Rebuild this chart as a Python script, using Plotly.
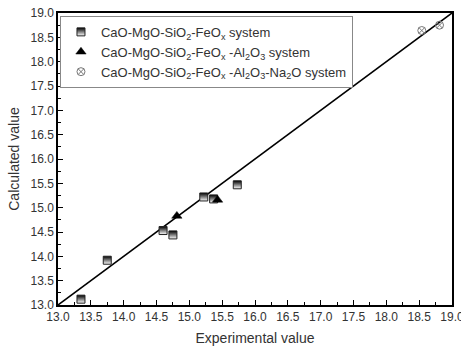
import plotly.graph_objects as go

# Data
sys1_x = [13.35, 13.75, 14.60, 14.75, 15.22, 15.37, 15.73]
sys1_y = [13.12, 13.92, 14.53, 14.44, 15.22, 15.18, 15.47]
sys2_x = [14.81, 15.43]
sys2_y = [14.83, 15.16]
sys3_x = [18.54, 18.81]
sys3_y = [18.64, 18.75]
line_x = [13.0, 19.0]
line_y = [13.0, 19.0]

names = [
    "CaO-MgO-SiO<sub>2</sub>-FeO<sub>x</sub> system",
    "CaO-MgO-SiO<sub>2</sub>-FeO<sub>x</sub> -Al<sub>2</sub>O<sub>3</sub> system",
    "CaO-MgO-SiO<sub>2</sub>-FeO<sub>x</sub> -Al<sub>2</sub>O<sub>3</sub>-Na<sub>2</sub>O system",
]

FONT = "Liberation Sans, Arial"

fig = go.Figure()
fig.add_trace(go.Scatter(x=line_x, y=line_y, mode="lines",
                         line=dict(color="black", width=1.6), showlegend=False))
fig.add_trace(go.Scatter(x=sys1_x, y=sys1_y, mode="markers", name=names[0],
                         marker=dict(symbol="square", size=8, color="black",
                                     gradient=dict(type="vertical", color="white"),
                                     line=dict(color="#222", width=1))))
fig.add_trace(go.Scatter(x=sys2_x, y=sys2_y, mode="markers", name=names[1],
                         marker=dict(symbol="triangle-up", size=9, color="black",
                                     line=dict(color="black", width=0.5))))
fig.add_trace(go.Scatter(x=sys3_x, y=sys3_y, mode="markers", name=names[2],
                         marker=dict(symbol="circle-x-open", size=8, color="#777",
                                     line=dict(width=1))))

axis_common = dict(range=[13, 19], dtick=0.5, tick0=13, tickformat=".1f",
                   ticks="inside", ticklen=5, tickwidth=1, tickcolor="black",
                   showline=True, linecolor="black", linewidth=1.5, mirror=True,
                   showgrid=False, zeroline=False, automargin=False,
                   ticklabeloverflow="allow",
                   tickfont=dict(family=FONT, size=12, color="#333"),
                   minor=dict(ticks="inside", ticklen=3, tickcolor="black", dtick=0.25, tick0=13))

fig.update_xaxes(**axis_common,
                 title=dict(text="Experimental value", standoff=10,
                            font=dict(family=FONT, size=14, color="#333")))
fig.update_yaxes(**axis_common,
                 title=dict(text="Calculated value", standoff=8,
                            font=dict(family=FONT, size=14, color="#333")))

fig.update_layout(
    width=461, height=350,
    margin=dict(l=58, r=9, t=13, b=45),
    plot_bgcolor="white", paper_bgcolor="white",
    legend=dict(x=0.005, y=0.99, xanchor="left", yanchor="top",
                bordercolor="#888", borderwidth=1, bgcolor="white",
                font=dict(family=FONT, size=13, color="#333"),
                tracegroupgap=0, itemsizing="trace"),
)

# remove the default 8px page margin so the figure sits at the window origin
fig.write_html("out.html",
               config={"displayModeBar": False},
               post_script="document.body.style.margin='0';document.body.style.overflow='hidden';")
